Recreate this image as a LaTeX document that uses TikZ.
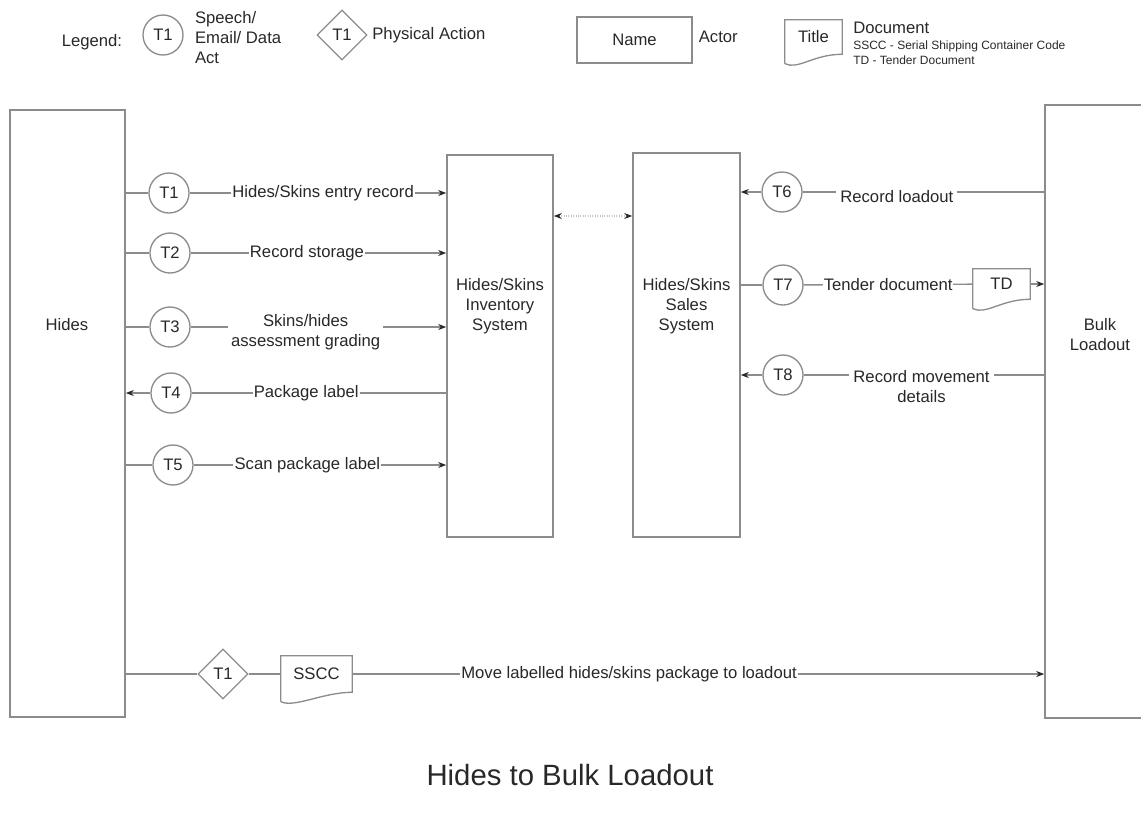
\documentclass[tikz,border=0pt]{standalone}
\usepackage{fontspec}
\setmainfont{Liberation Sans}
\usepackage{xcolor}
\usepackage{tikz}
\usetikzlibrary{positioning, arrows.meta, shapes.geometric}

\definecolor{lncol}{RGB}{140,140,140}
\definecolor{txcol}{RGB}{40,40,40}
\newcommand{\txt}{\fontsize{12.5}{15}\selectfont}
\newcommand{\smalltxt}{\fontsize{9}{10}\selectfont}
% wavy bottom of a document symbol
\newcommand{\docpath}[1]{\draw[conn] ([yshift=-7pt]#1.south west) -- (#1.north west) -- (#1.north east) -- (#1.south east)
   .. controls ([xshift=-22pt]#1.south east) and ([xshift=10pt, yshift=-12pt]#1.south west) .. ([yshift=-7pt]#1.south west);}

\begin{document}
\begin{tikzpicture}[x=0.75pt, y=-0.75pt,
            actor/.style={rectangle, draw=lncol, line width=1.2pt, inner sep=0pt},
            trans/.style={circle, draw=lncol, line width=1pt, minimum size=30pt, inner sep=0pt, font=\txt},
            phys/.style={diamond, draw=lncol, line width=1pt, minimum width=37.5pt, minimum height=37.5pt, inner sep=0pt, font=\txt},
            docbox/.style={rectangle, inner sep=0pt, font=\txt},
            lbl/.style={fill=white, inner sep=1pt, font=\txt, align=center},
            conn/.style={draw=lncol, line width=1pt},
            arr/.style={-{Stealth[length=6pt, width=4.5pt, color=txcol]}},
            every node/.style={text=txcol}
        ]
        \path[use as bounding box] (0,0) rectangle (1141,819);
        \clip (0,0) rectangle (1141,819);

        % Legend
        \node[font=\txt] (lg) at (92,42) {Legend:};
        \node[trans] (lgcirc) at (163,35) {T1};
        \node[font=\txt, align=left, right=5pt of lgcirc, yshift=-2pt] (lgcirctxt) {Speech/\\Email/ Data\\Act};
        \node[phys] (lgdia) at (342,35) {T1};
        \node[font=\txt, right=0pt of lgdia] (lgdiatxt) {Physical Action};
        \node[actor, minimum width=86.25pt, minimum height=34.5pt, font=\txt] (lgact) at (634.5,40) {Name};
        \node[font=\txt, right=1pt of lgact, yshift=2pt] (lgacttxt) {Actor};
        \node[docbox, minimum width=42.75pt, minimum height=25.5pt] (lgdoc) at (813.5,37) {Title};
        \docpath{lgdoc}
        \node[font=\txt, align=left, anchor=north west, inner sep=0pt] (lgdoctxt) at (853,22)
            {Document\\[-3pt]{\smalltxt SSCC - Serial Shipping Container Code}\\[-4pt]{\smalltxt TD - Tender Document}};

        % Actors
        \node[actor, minimum width=86.25pt, minimum height=455.25pt] (hides) at (67.5,413.5) {};
        \node[font=\txt] (hidestxt) at (67,325) {Hides};
        \node[actor, minimum width=79.5pt, minimum height=286.5pt] (inv) at (500,346) {};
        \node[font=\txt, align=center] (invtxt) at (500,306) {Hides/Skins\\Inventory\\System};
        \node[actor, minimum width=80.25pt, minimum height=288pt] (sales) at (686.5,345) {};
        \node[font=\txt, align=center] (salestxt) at (686.5,306) {Hides/Skins\\Sales\\System};
        \node[actor, minimum width=90pt, minimum height=459.75pt] (bulk) at (1105,411.5) {};
        \node[font=\txt, align=center] (bulktxt) at (1100,335) {Bulk\\Loadout};

        % Transactions
        \node[trans] (t1) at (169,193) {T1};
        \node[trans] (t2) at (170,253) {T2};
        \node[trans] (t3) at (170,327) {T3};
        \node[trans] (t4) at (171,393) {T4};
        \node[trans] (t5) at (173,465) {T5};
        \node[trans] (t6) at (782,192) {T6};
        \node[trans] (t7) at (783,285) {T7};
        \node[trans] (t8) at (783,375) {T8};
        \node[phys] (d1) at (223,674) {T1};
        \node[docbox, minimum width=53.25pt, minimum height=27pt] (sscc) at (316.5,674) {SSCC};
        \docpath{sscc}
        \node[docbox, minimum width=42.75pt, minimum height=22.5pt] (td) at (1001.5,284) {TD};
        \docpath{td}

        % Hides -> Inventory
        \draw[conn] (hides.east |- t1) -- (t1);
        \draw[conn, arr] (t1) -- node[lbl, pos=0.52] {Hides/Skins entry record} (inv.west |- t1);
        \draw[conn] (hides.east |- t2) -- (t2);
        \draw[conn, arr] (t2) -- node[lbl, pos=0.455] {Record storage} (inv.west |- t2);
        \draw[conn] (hides.east |- t3) -- (t3);
        \draw[conn, arr] (t3) -- node[lbl, pos=0.45, yshift=-3.75pt, inner sep=2pt] {Skins/hides\\assessment grading} (inv.west |- t3);
        \draw[conn] (inv.west |- t4) -- node[lbl, pos=0.55] {Package label} (t4);
        \draw[conn, arr] (t4) -- (hides.east |- t4);
        \draw[conn] (hides.east |- t5) -- (t5);
        \draw[conn, arr] (t5) -- node[lbl, pos=0.45] {Scan package label} (inv.west |- t5);

        % Inventory <-> Sales
        \coordinate (invlink) at (inv.east |- 0,216);
        \draw[draw=lncol!50, densely dotted, line width=0.8pt, {Stealth[length=6pt, width=4.5pt, color=txcol]}-{Stealth[length=6pt, width=4.5pt, color=txcol]}]
            (invlink) -- (sales.west |- invlink);

        % Bulk Loadout <-> Sales
        \draw[conn] (bulk.west |- t6) -- node[lbl, pos=0.61, yshift=-3.75pt, inner sep=3pt] {Record loadout} (t6);
        \draw[conn, arr] (t6) -- (sales.east |- t6);
        \draw[conn] (sales.east |- t7) -- (t7);
        \draw[conn] (t7) -- node[lbl, inner sep=0.5pt] {Tender document} (td);
        \draw[conn, arr] (td) -- (bulk.west |- td);
        \draw[conn] (bulk.west |- t8) -- node[lbl, pos=0.51, yshift=-9pt, inner sep=3pt] {Record movement\\details} (t8);
        \draw[conn, arr] (t8) -- (sales.east |- t8);

        % Physical move
        \draw[conn] (hides.east |- d1) -- (d1);
        \draw[conn] (d1) -- (sscc);
        \draw[conn, arr] (sscc) -- node[lbl, pos=0.40] {Move labelled hides/skins package to loadout} (bulk.west |- sscc);

        \node[font=\fontsize{22}{26}\selectfont] (ttl) at (570,775) {Hides to Bulk Loadout};
\end{tikzpicture}
\end{document}
